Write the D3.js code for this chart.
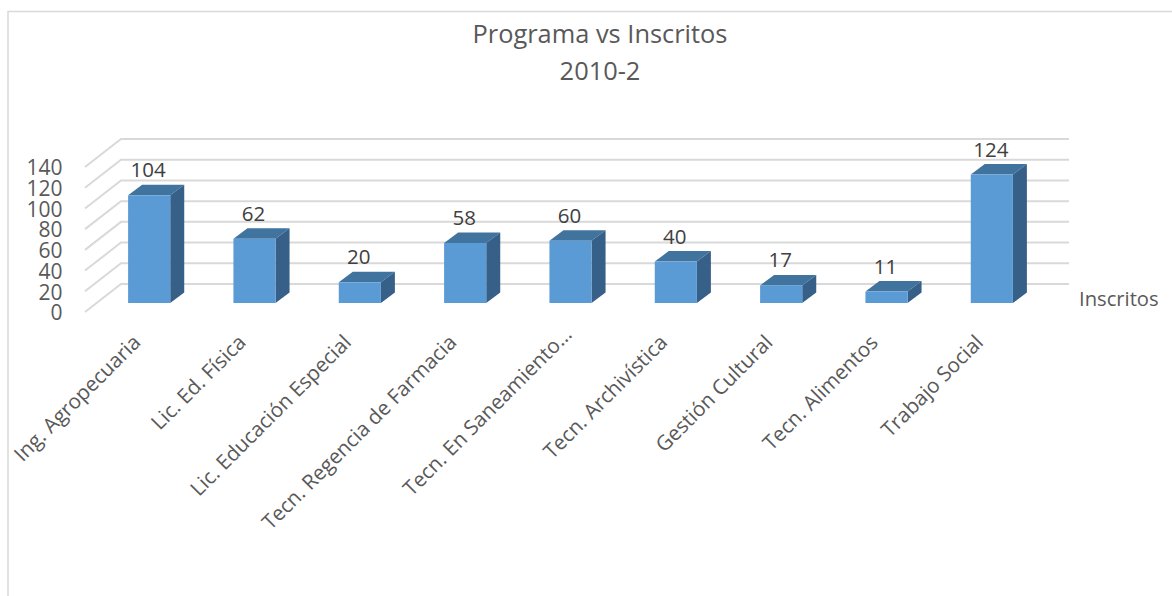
<!DOCTYPE html>
<html>
<head>
<meta charset="utf-8">
<script src="https://cdnjs.cloudflare.com/ajax/libs/d3/7.8.5/d3.min.js"></script>
<style>
  html, body { margin: 0; padding: 0; background: #fff; overflow: hidden; }
  text { font-family: "Open Sans", sans-serif; }
</style>
</head>
<body>
<div id="chart"></div>
<script>
var categories = ['Ing. Agropecuaria', 'Lic. Ed. Física', 'Lic. Educación Especial', 'Tecn. Regencia de Farmacia',
  'Tecn. En Saneamiento…', 'Tecn. Archivística', 'Gestión Cultural', 'Tecn. Alimentos', 'Trabajo Social'];
var inscritos = [104, 62, 20, 58, 60, 40, 17, 11, 124];
var yTicks = [0, 20, 40, 60, 80, 100, 120, 140];
var seriesName = 'Inscritos';
var titleLines = ['Programa vs Inscritos', '2010-2'];

var width = 1172;
var height = 596;

// Depth of the 3D floor, and how far the bars sit back from its front edge.
var floorDx = 36;
var floorDy = -28;
var barDx = 14;
var barDy = -10.5;
var barShift = -9;

var xScale = d3.scaleBand().domain(categories).range([96.5, 1044.5]).paddingInner(0.6).paddingOuter(0.3);
var yScale = d3.scaleLinear().domain([0, 140]).range([312, 167]);

var svg = d3.select('#chart').append('svg')
  .attr('width', width)
  .attr('height', height);

// Chart frame, only top and left show in the picture.
svg.append('path')
  .attr('d', 'M8,596V11.5H1172')
  .attr('fill', 'none')
  .attr('stroke', '#d9d9d9')
  .attr('stroke-width', 1.5);

svg.append('g').selectAll('text')
  .data(titleLines)
  .enter().append('text')
  .attr('x', 600)
  .attr('y', function(d, i) { return 43 + i * 36.5; })
  .attr('text-anchor', 'middle')
  .attr('font-size', 25.4)
  .attr('fill', '#595959')
  .text(function(d) { return d; });

// Gridlines run along the side wall, then across the back wall.
svg.append('g').selectAll('path')
  .data(yTicks)
  .enter().append('path')
  .attr('fill', 'none')
  .attr('stroke', '#d9d9d9')
  .attr('stroke-width', 2)
  .attr('d', function(d) {
    var y = yScale(d);
    return 'M85,' + y + 'L' + (85 + floorDx) + ',' + (y + floorDy) + 'L1069,' + (y + floorDy);
  });

// The tick labels are taller than their spacing, so they touch as in the original.
var yAxis = d3.axisLeft(yScale).tickValues(yTicks).tickSize(0).tickPadding(0);
var yAxisG = svg.append('g')
  .attr('transform', 'translate(62.5,1)')
  .call(yAxis);
yAxisG.select('.domain').remove();
yAxisG.selectAll('text')
  .attr('font-family', null)
  .attr('font-size', 21)
  .attr('fill', '#595959');

var xAxis = d3.axisBottom(xScale).tickSize(0);
var xAxisG = svg.append('g')
  .attr('transform', 'translate(0,325)')
  .call(xAxis);
xAxisG.select('.domain').remove();
xAxisG.selectAll('text')
  .attr('font-size', 20.6)
  .attr('fill', '#595959')
  .attr('text-anchor', 'end')
  .attr('x', 0)
  .attr('y', 0)
  .attr('dy', '0.7em')
  .attr('transform', function(d) {
    // The truncated label sits a little further up and right than the others.
    var truncated = d.slice(-1) === '…';
    return 'translate(' + (truncated ? -7.5 : -17.5) + ',' + (truncated ? 0.5 : 8.5) + ') rotate(-45)';
  });

var bars = svg.append('g').selectAll('g')
  .data(inscritos)
  .enter().append('g');

function barLeft(d, i) { return xScale(categories[i]); }
function barRight(d, i) { return barLeft(d, i) + xScale.bandwidth(); }
function barTop(d) { return yScale(d) + barShift; }

// Top face
bars.append('path')
  .attr('fill', '#41739f')
  .attr('d', function(d, i) {
    var l = barLeft(d, i);
    var r = barRight(d, i);
    var t = barTop(d);
    return 'M' + l + ',' + t + 'L' + (l + barDx) + ',' + (t + barDy) + 'L' + (r + barDx) + ',' + (t + barDy) + 'L' + r + ',' + t + 'Z';
  });

// Side face
bars.append('path')
  .attr('fill', '#376088')
  .attr('d', function(d, i) {
    var r = barRight(d, i);
    var t = barTop(d);
    var b = yScale(0) + barShift;
    return 'M' + r + ',' + t + 'L' + (r + barDx) + ',' + (t + barDy) + 'L' + (r + barDx) + ',' + (b + barDy) + 'L' + r + ',' + b + 'Z';
  });

// Front face
bars.append('rect')
  .attr('fill', '#5b9bd5')
  .attr('x', barLeft)
  .attr('y', barTop)
  .attr('width', xScale.bandwidth())
  .attr('height', function(d) { return yScale(0) - yScale(d); });

// Value labels
bars.append('text')
  .attr('x', function(d, i) { return barLeft(d, i) + xScale.bandwidth() / 2 - 1; })
  .attr('y', function(d) { return barTop(d) - 18; })
  .attr('text-anchor', 'middle')
  .attr('font-size', 20.5)
  .attr('fill', '#404040')
  .text(function(d) { return d; });

svg.append('text')
  .attr('x', 1079)
  .attr('y', 306)
  .attr('font-size', 20.2)
  .attr('fill', '#595959')
  .text(seriesName);
</script>
</body>
</html>
